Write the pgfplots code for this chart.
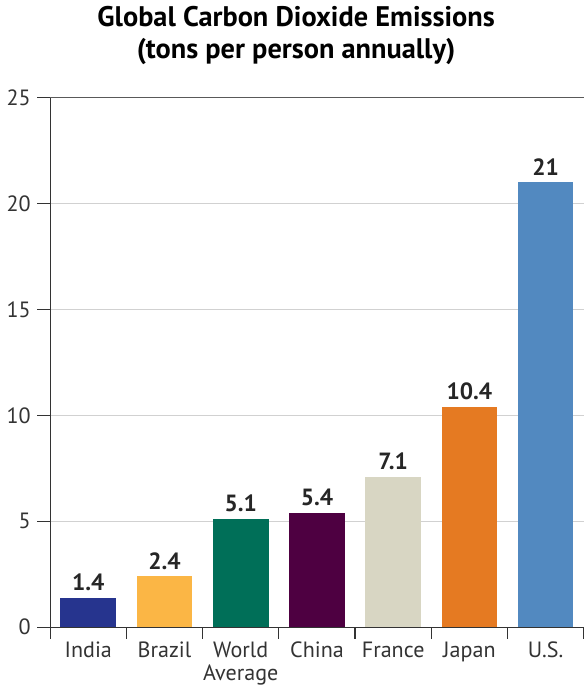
\documentclass[border=0pt]{standalone}
\usepackage{pgfplots}
\pgfplotsset{compat=1.18}
\usepackage{fontspec}
\setmainfont{PT Sans}

\definecolor{cIndia}{RGB}{38,52,142}
\definecolor{cBrazil}{RGB}{251,182,69}
\definecolor{cWorld}{RGB}{0,111,88}
\definecolor{cChina}{RGB}{78,0,65}
\definecolor{cFrance}{RGB}{216,214,195}
\definecolor{cJapan}{RGB}{229,122,34}
\definecolor{cUS}{RGB}{82,137,192}

\begin{document}
\begin{tikzpicture}
\begin{axis}[
  scale only axis,
  width=273pt, height=271pt,
  xmin=-0.5, xmax=6.5,
  ymin=0, ymax=25,
  axis x line*=bottom,
  axis y line*=left,
  axis line style={-, black!80, line width=0.6pt},
  ytick={0,5,...,25},
  xtick={0,...,6},
  xticklabels={India,Brazil,{World\\Average},China,France,Japan,U.S.},
  xticklabel style={align=center, text=black!80, font=\fontsize{11.3}{12}\selectfont, anchor=north, yshift=2.5pt},
  yticklabel style={text=black!80, font=\fontsize{11.3}{12}\selectfont},
  /pgf/number format/assume math mode=true,
  minor xtick={-0.5,0.5,...,6.5},
  major x tick style={draw=none},
  tick align=outside,
  major tick length=6.5pt,
  minor tick length=6pt,
  tick style={black!80, line width=0.6pt},
  ymajorgrids,
  grid style={black!18, line width=0.5pt},
  extra y ticks={25},
  extra y tick labels={},
  extra y tick style={grid style={black!65, line width=0.8pt}},
  title={\bfseries Global Carbon Dioxide Emissions\\\bfseries (tons per person annually)},
  title style={align=center, font=\fontsize{14.5}{16.5}\selectfont, at={(0.461,1)}, anchor=south, yshift=7pt},
  ybar, bar width=28.5pt, bar shift=0pt,
  nodes near coords,
  nodes near coords style={font=\bfseries\fontsize{12}{13}\selectfont, text=black!85},
  point meta=explicit symbolic,
  clip=false,
]
\addplot[fill=cIndia, draw=none] coordinates {(0,1.4) [1.4]};
\addplot[fill=cBrazil, draw=none] coordinates {(1,2.4) [2.4]};
\addplot[fill=cWorld, draw=none] coordinates {(2,5.1) [5.1]};
\addplot[fill=cChina, draw=none] coordinates {(3,5.4) [5.4]};
\addplot[fill=cFrance, draw=none] coordinates {(4,7.1) [7.1]};
\addplot[fill=cJapan, draw=none] coordinates {(5,10.4) [10.4]};
\addplot[fill=cUS, draw=none] coordinates {(6,21) [21]};
\end{axis}
\end{tikzpicture}
\end{document}
